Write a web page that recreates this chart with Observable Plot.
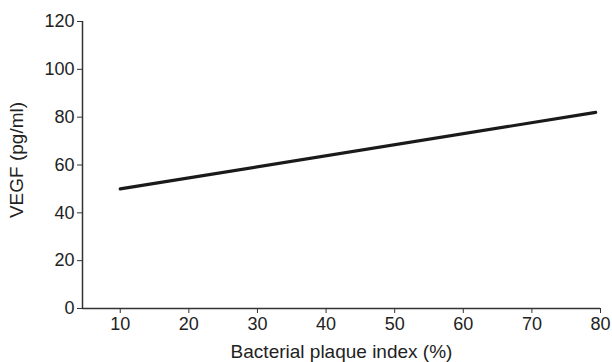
<!DOCTYPE html>
<html>
<head>
<meta charset="utf-8">
<script src="https://cdn.jsdelivr.net/npm/d3@7"></script>
<script src="https://cdn.jsdelivr.net/npm/@observablehq/plot@0.6"></script>
<style>
  html, body { margin: 0; padding: 0; background: #fff; }
  #chart svg { display: block; }
</style>
</head>
<body>
<div id="chart"></div>
<script>
const plaqueIndex = [10, 79.3];
const vegf = [50, 82];
const xTicks = [10, 20, 30, 40, 50, 60, 70, 80];
const yTicks = [0, 20, 40, 60, 80, 100, 120];
const xLabel = "Bacterial plaque index (%)";
const yLabel = "VEGF (pg/ml)";

const data = plaqueIndex.map((x, i) => ({x, y: vegf[i]}));
const font = "Arial, 'Liberation Sans', sans-serif";

const chart = Plot.plot({
  width: 612,
  height: 362,
  marginLeft: 82,
  marginRight: 12,
  marginTop: 21,
  marginBottom: 54,
  style: {fontFamily: font, fontSize: "18px", color: "#222", background: "#fff"},
  x: {domain: [4.5, 80]},
  y: {domain: [0, 120]},
  marks: [
    Plot.axisY({ticks: yTicks, tickSize: 5, tickPadding: 3, stroke: "#333", fontSize: 18,
      label: yLabel, labelAnchor: "center", labelArrow: "none", labelOffset: 73}),
    Plot.axisX({ticks: xTicks, tickSize: 5, tickPadding: 4, stroke: "#333", fontSize: 18,
      label: xLabel, labelAnchor: "center", labelArrow: "none", labelOffset: 49}),
    Plot.ruleX([4.5], {stroke: "#333", strokeWidth: 1.5}),
    Plot.ruleY([0], {stroke: "#333", strokeWidth: 1.5}),
    Plot.line(data, {x: "x", y: "y", stroke: "#1a1a1a", strokeWidth: 3.2})
  ]
});
d3.select(chart).selectAll("g[aria-label$='axis label']").style("font-size", "19px");
d3.select(chart).selectAll("g[aria-label='y-axis label']").each(function() {
  const g = d3.select(this);
  const t = g.attr("transform") || "";
  g.attr("transform", (t + " translate(0,-5)").trim());
});
document.getElementById("chart").appendChild(chart);
</script>
</body>
</html>
